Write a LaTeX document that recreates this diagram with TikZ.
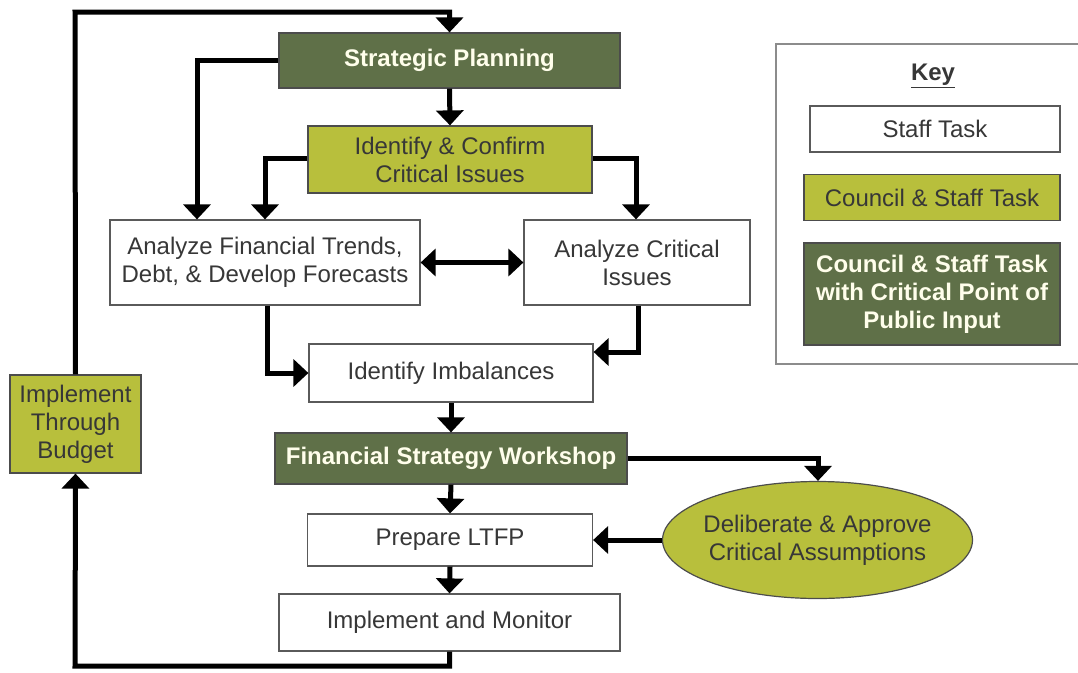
\documentclass[tikz,border=0pt]{standalone}
\usepackage{fontspec}
\setmainfont{Liberation Sans}
\usetikzlibrary{arrows.meta,shapes.geometric}
\definecolor{darkg}{RGB}{95,112,72}
\definecolor{yellowg}{RGB}{184,191,60}
\definecolor{txt}{RGB}{55,55,55}
\definecolor{bord}{RGB}{90,90,90}
\tikzset{
  box/.style={draw=bord, line width=1.2pt, rectangle, inner sep=0pt, align=center, text=txt,
    font=\fontsize{24}{28}\selectfont},
  staffbox/.style={box, fill=white},
  councilbox/.style={box, fill=yellowg, draw=black!70},
  publicbox/.style={box, fill=darkg, draw=black!70, text=white!92!yellow, font=\fontsize{24}{28}\selectfont\bfseries},
  flow/.style={line width=5pt, -{Triangle[width=27pt,length=15pt]}},
  flowtwo/.style={line width=5pt, {Triangle[width=27pt,length=15pt]}-{Triangle[width=27pt,length=15pt]}},
}
\begin{document}
\begin{tikzpicture}[x=1pt,y=-1pt]
\useasboundingbox (0,0) rectangle (1078,672);
% key
\node[draw=black!45, line width=1.5pt, minimum width=303pt, minimum height=320pt, inner sep=0pt] (key) at (927.5,204) {};
\node[font=\fontsize{24}{28}\selectfont\bfseries, text=txt] (keyt) at (933,76) {\underline{Key}};
\node[staffbox, minimum width=250pt, minimum height=46pt] (kst) at (935,129) {Staff Task};
\node[councilbox, minimum width=256pt, minimum height=46pt] (kct) at (932,197.5) {Council \& Staff Task};
\node[publicbox, minimum width=256pt, minimum height=102pt] (kpt) at (932,294) {Council \& Staff Task\\with Critical Point of\\Public Input};
% main nodes
\node[publicbox, minimum width=341pt, minimum height=55pt] (sp) at (449.5,60.5) {Strategic Planning};
\node[councilbox, minimum width=284pt, minimum height=67pt] (ic) at (450,159.5) {Identify \& Confirm\\Critical Issues};
\node[staffbox, minimum width=310pt, minimum height=85pt] (af) at (265,262.5) {Analyze Financial Trends,\\Debt, \& Develop Forecasts};
\node[staffbox, minimum width=226pt, minimum height=85pt] (ac) at (637,262.5) {Analyze Critical\\Issues};
\node[staffbox, minimum width=284pt, minimum height=58pt] (ii) at (451,373) {Identify Imbalances};
\node[publicbox, minimum width=352pt, minimum height=51pt] (fsw) at (451,458.5) {Financial Strategy Workshop};
\node[staffbox, minimum width=285pt, minimum height=52pt] (pl) at (450,540) {Prepare LTFP};
\node[staffbox, minimum width=341pt, minimum height=57pt] (im) at (449.5,622.5) {Implement and Monitor};
\node[ellipse, draw=black!70, line width=1.2pt, fill=yellowg, text=txt, align=center, inner xsep=-5pt, inner ysep=0pt,
  minimum width=310pt, minimum height=117pt, font=\fontsize{24}{28}\selectfont] (el) at (817.5,540) {Deliberate \& Approve\\Critical Assumptions};
\node[councilbox, minimum width=131pt, minimum height=98pt] (itb) at (75.5,424) {Implement\\Through\\Budget};
% connectors
\coordinate (top) at (75,12);
\draw[flow] (itb.north) -- (top) -| (sp.north);
\draw[flow] (sp.west) -| (af.north -| 197,0);
\draw[flow] (sp.south) -- (ic.north);
\draw[flow] (ic.west |- 0,158) -| (af.north -| 265,0);
\draw[flow] (ic.east |- 0,158) -| (ac.north -| 636,0);
\draw[flowtwo] (af.east) -- (ac.west);
\draw[flow] (af.south -| 267,0) |- (ii.west);
\draw[flow] (ac.south -| 638,0) |- (ii.east |- 0,352);
\draw[flow] (ii.south) -- (fsw.north);
\draw[flow] (fsw.east) -| (el.north -| 818,0);
\draw[flow] (fsw.south) -- (pl.north);
\draw[flow] (el.west) -- (pl.east);
\draw[flow] (pl.south) -- (im.north);
\coordinate (bot) at (75,666);
\draw[flow] (im.south) |- (bot) -- (itb.south);
\end{tikzpicture}
\end{document}
